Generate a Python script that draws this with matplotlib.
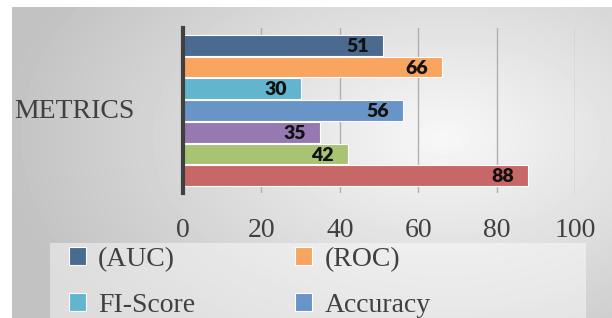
import numpy as np
import matplotlib.pyplot as plt
from matplotlib.patches import Patch, Rectangle

# values top to bottom, only the first four have a visible legend entry
values = [51, 66, 30, 56, 35, 42, 88]
legend_names = ["(AUC)", "(ROC)", "FI-Score", "Accuracy"]
colors = ["#4a6a8f", "#f7a55f", "#62b5cc", "#6894c7", "#9579b0", "#a8c473", "#c86866"]
xticks = [0, 20, 40, 60, 80, 100]
category = "METRICS"

W, H = 612, 318
fig = plt.figure(figsize=(W / 100, H / 100), dpi=100)
fig.patch.set_facecolor("white")

# grey background with soft radial highlight
bg = fig.add_axes([12 / W, 0, 1 - 12 / W, 1 - 7 / H], zorder=-10)
yy, xx = np.mgrid[0:311, 0:600]
r = np.sqrt(((xx - 430) / 420.0) ** 2 + ((yy - 130) / 260.0) ** 2)
shade = np.clip(0.97 - 0.2 * r, 0.76, 0.97)
bg.imshow(shade, cmap="gray", vmin=0, vmax=1, aspect="auto", interpolation="bilinear")
bg.axis("off")

ax = fig.add_axes([183 / W, 1 - 193 / H, 392 / W, 165 / H])
ax.patch.set_alpha(0)
pos = np.arange(len(values))
ax.barh(pos, values, height=0.95, color=colors, edgecolor="white", linewidth=0.8, zorder=3)
for p, v in zip(pos, values):
    ax.text(v - 3.5, p + 0.05, str(v), ha="right", va="center",
            fontsize=14, fontweight="heavy", family="Lato", color="#111111", zorder=4)

ax.set_xlim(0, 100)
ax.set_ylim(6.8, -0.8)
ax.set_xticks(xticks)
ax.set_xticklabels([str(t) for t in xticks], family="Liberation Serif", fontsize=20, color="#404040")
ax.tick_params(axis="x", length=0, pad=18)
ax.set_yticks([])
ax.grid(axis="x", color="#b0b0b0", linewidth=1, zorder=0)
for s in ["top", "right", "bottom"]:
    ax.spines[s].set_visible(False)
ax.spines["left"].set_linewidth(3)
ax.spines["left"].set_color("#404040")
ax.spines["left"].set_zorder(5)

fig.text(14 / W, 1 - 111 / H, category, ha="left", va="center",
         family="Liberation Serif", fontsize=20, color="#404040")

# legend box, cut off at the bottom of the figure
fig.patches.append(Rectangle((50 / W, 0), 536 / W, 75 / H, transform=fig.transFigure,
                             facecolor="white", alpha=0.45, edgecolor="none", zorder=-5))
handles = [Patch(facecolor=c, edgecolor="white", linewidth=0.8) for c in colors[:4]]
order = [0, 2, 1, 3]
leg = fig.legend([handles[i] for i in order], [legend_names[i] for i in order], ncol=2,
                 loc="upper left", bbox_to_anchor=(44 / W, 1 - 222 / H), frameon=False,
                 prop={"family": "Liberation Serif", "size": 20}, handlelength=0.6,
                 handleheight=0.6, handletextpad=0.45, columnspacing=3.6, labelspacing=0.75)
for t in leg.get_texts():
    t.set_color("#404040")

fig.savefig("out.png", dpi=100)
